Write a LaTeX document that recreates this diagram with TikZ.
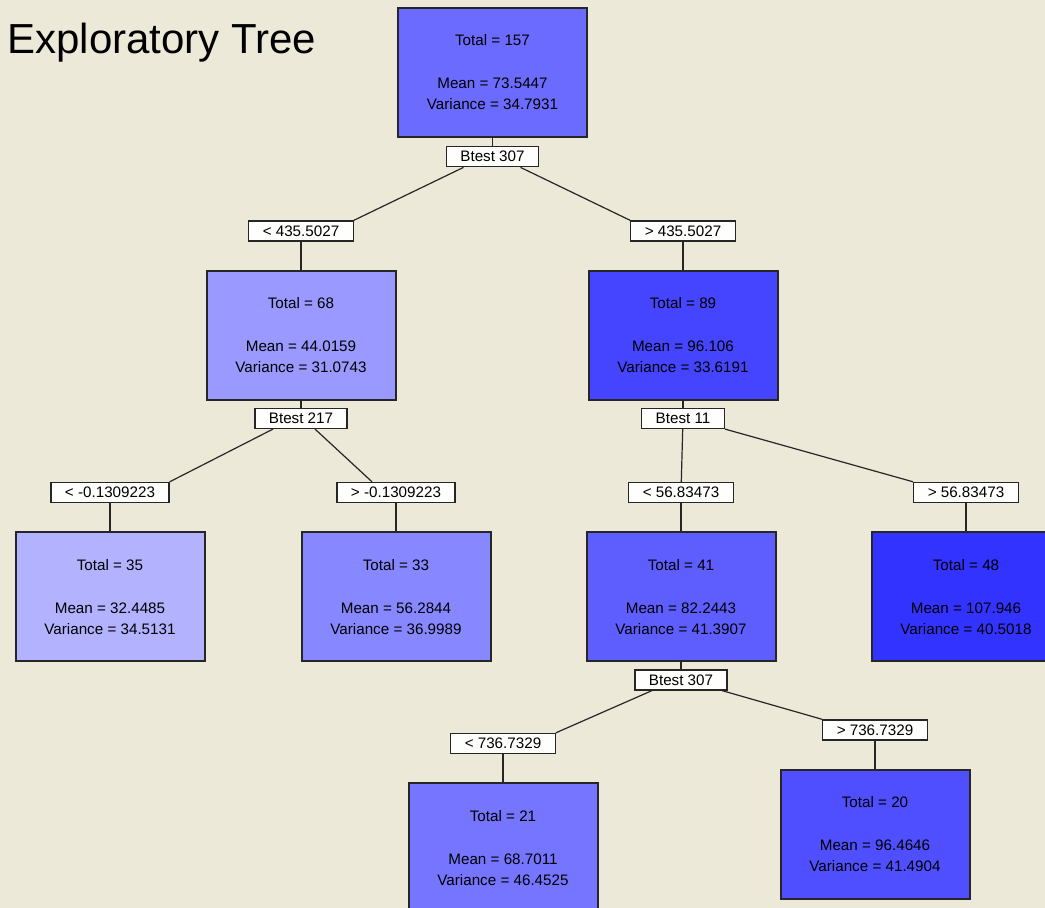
\documentclass[tikz,border=0pt]{standalone}
\usepackage{fontspec}
\setmainfont{Liberation Sans}
\usepackage{xcolor}
\usetikzlibrary{positioning}

\definecolor{bgbeige}{HTML}{ECE9D8}

\tikzset{
  leaf/.style={draw=black!85, line width=1pt, minimum width=94.5pt, minimum height=64.5pt,
    inner sep=0pt, align=center, font=\fontsize{7.6}{10.5}\selectfont},
  splitlbl/.style={draw=black!85, fill=white!96!bgbeige, line width=0.7pt, minimum height=10pt,
    inner ysep=0pt, inner xsep=7pt, font=\fontsize{7.6}{9}\selectfont},
  cond/.style={splitlbl},
  link/.style={black!85, line width=0.6pt}
}

\begin{document}
\begin{tikzpicture}[x=0.5pt, y=-0.5pt]
  \fill[bgbeige] (0,0) rectangle (1045,908);
  \clip (0,0) rectangle (1045,908);

  \node[anchor=base west, inner sep=0pt, font=\fontsize{21}{24}\selectfont] (title) at (7,54) {Exploratory Tree};

  % root split
  \node[leaf, fill=blue!58] (root) at (492.5,72.5) {Total = 157\\[11pt]Mean = 73.5447\\Variance = 34.7931};
  \node[splitlbl, below=4pt of root] (b1) {Btest 307};
  \node[cond] (lt) at (301,231) {< 435.5027};
  \node[cond] (gt) at (683,231) {> 435.5027};

  % second level
  \node[leaf, fill=blue!40, below=14pt of lt] (nl) {Total = 68\\[11pt]Mean = 44.0159\\Variance = 31.0743};
  \node[leaf, fill=blue!73, below=14pt of gt] (nr) {Total = 89\\[11pt]Mean = 96.106\\Variance = 33.6191};
  \node[splitlbl, below=3.5pt of nl] (b2) {Btest 217};
  \node[splitlbl, below=3.5pt of nr] (b3) {Btest 11};
  \node[cond] (lt2) at (110,492.5) {< -0.1309223};
  \node[cond] (gt2) at (396,492.5) {> -0.1309223};
  \node[cond] (lt3) at (681,492.5) {< 56.83473};
  \node[cond] (gt3) at (966,492.5) {> 56.83473};

  % third level
  \node[leaf, fill=blue!30, below=14pt of lt2] (nll) {Total = 35\\[11pt]Mean = 32.4485\\Variance = 34.5131};
  \node[leaf, fill=blue!47, below=14pt of gt2] (nlr) {Total = 33\\[11pt]Mean = 56.2844\\Variance = 36.9989};
  \node[leaf, fill=blue!63, below=14pt of lt3] (nrl) {Total = 41\\[11pt]Mean = 82.2443\\Variance = 41.3907};
  \node[leaf, fill=blue!80, below=14pt of gt3] (nrr) {Total = 48\\[11pt]Mean = 107.946\\Variance = 40.5018};
  \node[splitlbl, below=3.5pt of nrl] (b4) {Btest 307};
  \node[cond] (lt4) at (503,743.5) {< 736.7329};
  \node[cond] (gt4) at (875,730) {> 736.7329};

  % bottom level
  \node[leaf, fill=blue!54, below=14pt of lt4] (nrll) {Total = 21\\[11pt]Mean = 68.7011\\Variance = 46.4525};
  \node[leaf, fill=blue!69, below=14pt of gt4] (nrlr) {Total = 20\\[11pt]Mean = 96.4646\\Variance = 41.4904};

  % connectors
  \draw[link] (root) -- (b1);
  \draw[link] ([xshift=-14.5pt]b1.south) -- (lt.north east);
  \draw[link] ([xshift=14pt]b1.south) -- (gt.north west);
  \draw[link] (lt) -- (nl);
  \draw[link] (gt) -- (nr);

  \draw[link] (nl) -- (b2);
  \draw[link] (nr) -- (b3);
  \draw[link] ([xshift=-14pt]b2.south) -- (lt2.north east);
  \draw[link] ([xshift=7pt]b2.south) -- ([xshift=-12pt]gt2.north);
  \draw[link] (b3) -- (lt3);
  \draw[link] (b3.south east) -- (gt3.north west);
  \draw[link] (lt2) -- (nll);
  \draw[link] (gt2) -- (nlr);
  \draw[link] (lt3) -- (nrl);
  \draw[link] (gt3) -- (nrr);

  \draw[link] (nrl) -- (b4);
  \draw[link] ([xshift=-14.5pt]b4.south) -- (lt4.north east);
  \draw[link] ([xshift=20.5pt]b4.south) -- (gt4.north west);
  \draw[link] (lt4) -- (nrll);
  \draw[link] (gt4) -- (nrlr);
\end{tikzpicture}
\end{document}
